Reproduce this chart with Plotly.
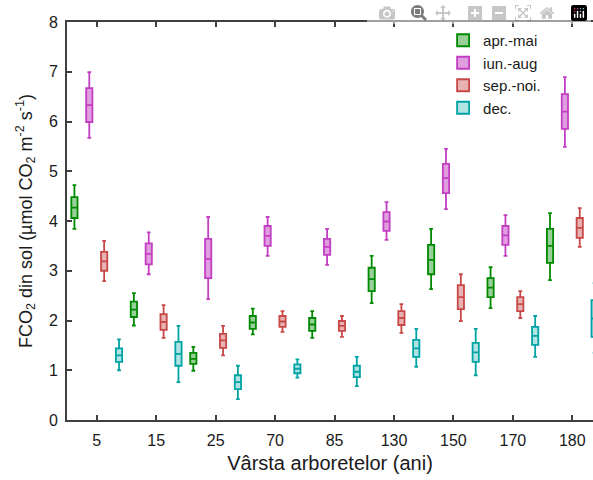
import plotly.graph_objects as go

categories = ["5", "15", "25", "70", "85", "130", "150", "170", "180"]
series_names = ["apr.-mai", "iun.-aug", "sep.-noi.", "dec."]
colors = ["#008a00", "#c23ec2", "#c84848", "#00a3a3"]
fills = ["rgba(0,138,0,0.40)", "rgba(194,62,194,0.50)", "rgba(200,72,72,0.42)", "rgba(0,163,163,0.30)"]

# centre (mean), box (±SE) and whiskers (±SD)
apr_center = [4.27, 2.22, 1.23, 1.96, 1.92, 2.83, 3.22, 2.66, 3.50]
apr_q1 = [4.06, 2.07, 1.13, 1.83, 1.79, 2.59, 2.93, 2.47, 3.16]
apr_q3 = [4.48, 2.38, 1.35, 2.09, 2.05, 3.06, 3.52, 2.85, 3.84]
apr_lo = [3.84, 1.90, 0.99, 1.72, 1.65, 2.35, 2.63, 2.25, 2.81]
apr_hi = [4.72, 2.55, 1.47, 2.24, 2.19, 3.30, 3.84, 3.07, 4.16]

iun_center = [6.33, 3.34, 3.24, 3.70, 3.48, 3.99, 4.86, 3.71, 6.20]
iun_q1 = [5.99, 3.13, 2.85, 3.50, 3.32, 3.80, 4.56, 3.52, 5.85]
iun_q3 = [6.67, 3.55, 3.64, 3.90, 3.64, 4.18, 5.15, 3.90, 6.55]
iun_lo = [5.67, 2.93, 2.43, 3.30, 3.12, 3.62, 4.24, 3.30, 5.49]
iun_hi = [6.99, 3.77, 4.08, 4.08, 3.84, 4.38, 5.45, 4.12, 6.89]

sep_center = [3.19, 1.97, 1.60, 1.98, 1.89, 2.05, 2.47, 2.33, 3.86]
sep_q1 = [3.00, 1.81, 1.45, 1.87, 1.79, 1.91, 2.23, 2.19, 3.66]
sep_q3 = [3.38, 2.13, 1.73, 2.09, 1.99, 2.19, 2.71, 2.47, 4.06]
sep_lo = [2.79, 1.65, 1.30, 1.77, 1.67, 1.75, 1.99, 2.05, 3.48]
sep_hi = [3.60, 2.31, 1.89, 2.19, 2.09, 2.33, 2.93, 2.59, 4.26]

dec_center = [1.30, 1.33, 0.76, 1.03, 0.97, 1.44, 1.36, 1.69, 2.04]
dec_q1 = [1.17, 1.09, 0.62, 0.94, 0.86, 1.27, 1.17, 1.51, 1.67]
dec_q3 = [1.44, 1.57, 0.90, 1.12, 1.09, 1.61, 1.55, 1.87, 2.41]
dec_lo = [1.00, 0.76, 0.42, 0.85, 0.68, 1.07, 0.90, 1.27, 1.35]
dec_hi = [1.62, 1.89, 1.09, 1.22, 1.27, 1.83, 1.83, 2.09, 2.75]

series = [
    (apr_center, apr_q1, apr_q3, apr_lo, apr_hi),
    (iun_center, iun_q1, iun_q3, iun_lo, iun_hi),
    (sep_center, sep_q1, sep_q3, sep_lo, sep_hi),
    (dec_center, dec_q1, dec_q3, dec_lo, dec_hi),
]

fig = go.Figure()
for name, col, fc, (c, q1, q3, lo, hi) in zip(series_names, colors, fills, series):
    fig.add_trace(go.Box(
        name=name, x=categories, q1=q1, median=c, q3=q3,
        lowerfence=lo, upperfence=hi, boxpoints=False,
        line=dict(color=col, width=1.8), fillcolor=fc,
        whiskerwidth=0.6,
    ))

axis_col = "#404040"
font_fam = "Arial, Liberation Sans, sans-serif"
fig.update_layout(
    width=593, height=480,
    margin=dict(l=67, r=0, t=22, b=60),
    paper_bgcolor="white", plot_bgcolor="white",
    boxmode="group", boxgap=0.0, boxgroupgap=0.58,
    font=dict(family=font_fam, size=16, color="#1a1a1a"),
    legend=dict(x=0.715, y=0.995, xanchor="left", yanchor="top",
                font=dict(size=15), bgcolor="rgba(0,0,0,0)",
                tracegroupgap=0, itemwidth=30),
    xaxis=dict(type="category", categoryorder="array", categoryarray=categories,
               range=[-0.5, 8.348], showline=True, linecolor=axis_col, linewidth=2,
               mirror="ticks", ticks="inside", ticklen=5, tickwidth=1.5,
               tickcolor=axis_col, showgrid=False, zeroline=False,
               tickfont=dict(size=16), ticklabelstandoff=5,
               title=dict(text="Vârsta arboretelor (ani)", font=dict(size=20), standoff=8)),
    yaxis=dict(range=[0, 8], dtick=1, showline=True, linecolor=axis_col, linewidth=2,
               mirror=False, ticks="inside", ticklen=5, tickwidth=1.5,
               tickcolor=axis_col, showgrid=False, zeroline=False,
               tickfont=dict(size=16), ticklabelstandoff=4,
               title=dict(text="FCO<sub>2</sub> din sol (µmol CO<sub>2</sub> m<sup>-2</sup> s<sup>-1</sup>)",
                          font=dict(size=18), standoff=12)),
    showlegend=True,
)

# remove the page's default 8px body margin and any scrollbars
fig.write_html("out.html",
               post_script="document.body.style.margin='0px';"
                           "document.body.style.overflow='hidden';"
                           "document.documentElement.style.overflow='hidden';")
